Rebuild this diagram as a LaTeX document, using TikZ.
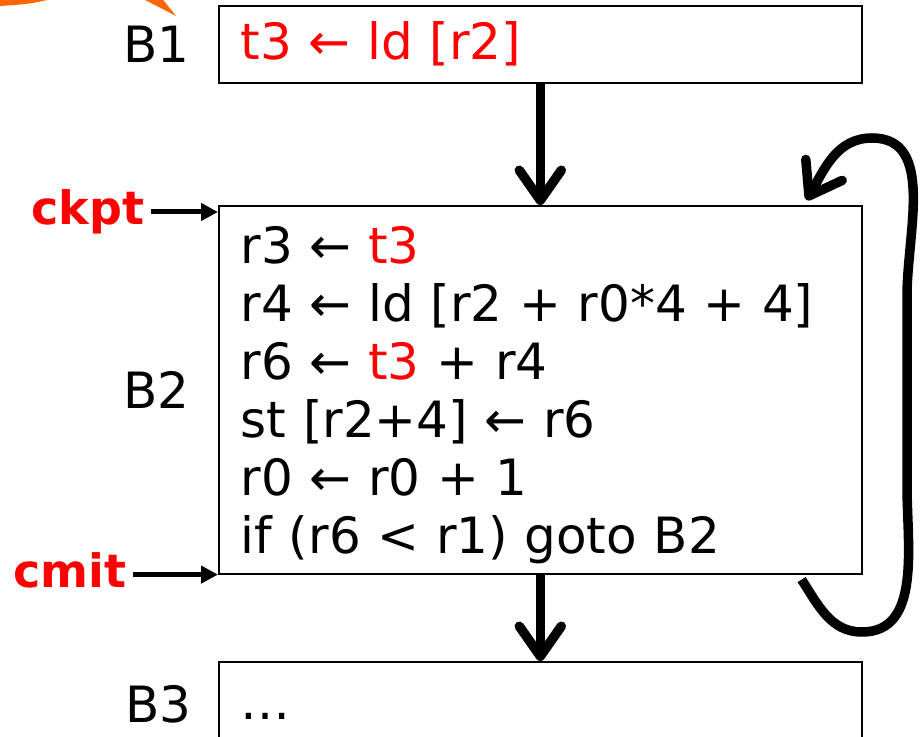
\documentclass[tikz,border=0pt]{standalone}
\usepackage{fontspec}
\setmainfont{DejaVu Sans}
\usetikzlibrary{arrows.meta, positioning}
\definecolor{callout}{RGB}{255,102,0}

\begin{document}
\begin{tikzpicture}[x=1pt, y=1pt,
    blk/.style={draw, line width=1.6pt, anchor=north west, text width=599pt, inner xsep=22pt, align=left, font=\fontsize{50}{58}\selectfont},
    lbl/.style={inner sep=0pt, font=\fontsize{50}{58}\selectfont},
    tag/.style={text=red, inner sep=6pt, font=\bfseries\fontsize{46}{50}\selectfont},
    tagarrow/.style={-{Triangle[length=17pt, width=17pt]}, line width=5pt},
    flow/.style={-{Straight Barb[length=30pt, width=42pt, round]}, line width=9.5pt}]
    \useasboundingbox (0,0) rectangle (923,736);
    \begin{scope}
        \clip (0,0) rectangle (923,736);
        % orange call-out coming from outside
        \fill[callout] (0,730) .. controls (30,732) .. (65,740) -- (0,745) -- cycle;
        \fill[callout] (176,720) -- (125,746.5) -- (154,747.5) -- cycle;

        \node[blk, minimum height=77pt] (b1) at (218,731) {\color{red}t3 ← ld [r2]};
        \node[blk, minimum height=368pt] (b2) at (218,531) {\rule{0pt}{48pt}r3 ← \textcolor{red}{t3}\\
            r4 ← ld [r2 + r0*4 + 4]\\
            r6 ← \textcolor{red}{t3} + r4\\
            st [r2+4] ← r6\\
            r0 ← r0 + 1\\
            if (r6 < r1) goto B2};
        \node[blk, minimum height=110pt] (b3) at (218,75) {…};
    \end{scope}

    \node[lbl, left=28pt of b1] (l1) {B1};
    \node[lbl, left=28pt of b2] (l2) {B2};
    \node[lbl, left=26pt of b3.north west, anchor=north east, yshift=-24pt] (l3) {B3};

    \node[tag] (ckpt) at (88,524) {ckpt};
    \node[tag] (cmit) at (70,166) {cmit};
    \draw[tagarrow] (ckpt.east) -- (ckpt.east -| b2.west);
    \draw[tagarrow] (cmit.east |- b2.south west) -- (b2.south west);

    \draw[flow] (b1) -- (b2);
    \draw[flow] (b2) -- (b3);
    % back edge of the loop
    \draw[flow] ([shift={(-61pt,-5pt)}]b2.south east) to[out=-57, in=180] (862,104)
        to[out=0, in=-90] (907,250) -- (907,440) to[out=90, in=0] (872,598)
        to[out=180, in=60] ([shift={(-56pt,5pt)}]b2.north east);
\end{tikzpicture}
\end{document}
